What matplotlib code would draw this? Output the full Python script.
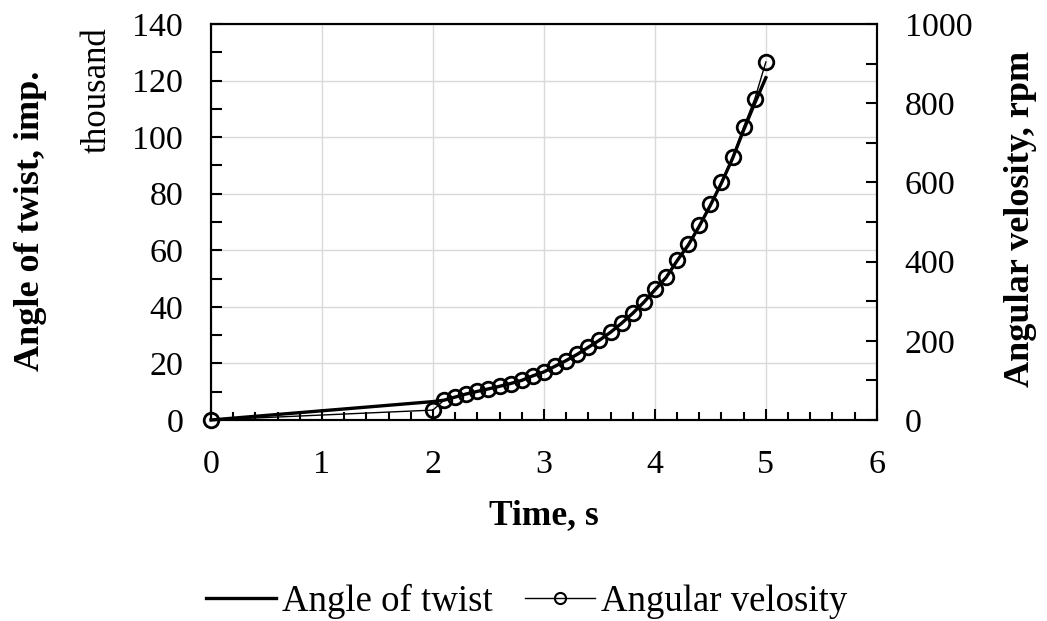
import numpy as np
import matplotlib
matplotlib.use("Agg")
import matplotlib.pyplot as plt
from matplotlib.ticker import MultipleLocator
from matplotlib.lines import Line2D

plt.rcParams['font.family'] = ['Liberation Serif', 'DejaVu Serif']

# time, s
time = [0, 2.0, 2.1, 2.2, 2.3, 2.4, 2.5, 2.6, 2.7, 2.8, 2.9, 3.0, 3.1, 3.2, 3.3, 3.4,
        3.5, 3.6, 3.7, 3.8, 3.9, 4.0, 4.1, 4.2, 4.3, 4.4, 4.5, 4.6, 4.7, 4.8, 4.9, 5.0]
# angle of twist, thousand imp.
twist = [0, 6.5, 7.0, 8.1, 9.2, 10.1, 11.0, 11.9, 12.9, 14.0, 15.6, 17.0, 19.0, 21.0, 23.2, 25.7,
         28.2, 31.0, 34.2, 37.7, 41.6, 46.0, 50.3, 56.3, 61.8, 68.5, 75.9, 83.8, 92.5, 102.5, 112.0, 121.0]
# angular velocity, rpm
velocity = [0, 25, 50, 58, 66, 72, 79, 85, 92, 100, 112, 122, 136, 150, 166, 184,
            202, 222, 245, 270, 298, 331, 361, 404, 444, 492, 545, 601, 664, 740, 811, 904]

fig = plt.figure(figsize=(10.47, 6.21), dpi=100)
ax = fig.add_axes([0.2015, 0.3237, 0.636, 0.6377])
ax2 = ax.twinx()

ax.plot(time, twist, color='black', lw=2.4, zorder=3, clip_on=False)
ax2.plot(time, velocity, color='black', lw=1.0, marker='o', ms=10.5,
         mfc='none', mec='black', mew=2.0, zorder=4, clip_on=False)

ax.set_xlim(0, 6)
ax.set_ylim(0, 140)
ax2.set_ylim(0, 1000)
ax.xaxis.set_major_locator(MultipleLocator(1))
ax.xaxis.set_minor_locator(MultipleLocator(0.2))
ax.yaxis.set_major_locator(MultipleLocator(20))
ax.yaxis.set_minor_locator(MultipleLocator(10))
ax2.yaxis.set_major_locator(MultipleLocator(200))
ax2.yaxis.set_minor_locator(MultipleLocator(100))

ax.grid(True, which='major', color='#d9d9d9', lw=1.0)
ax.set_axisbelow(True)

for a in (ax, ax2):
    for s in a.spines.values():
        s.set_linewidth(1.5)
        s.set_color('black')

ax.tick_params(axis='x', which='both', direction='in', labelsize=24.5, pad=21, width=1.5)
ax.tick_params(axis='x', which='major', length=8)
ax.tick_params(axis='x', which='minor', length=6)
ax.tick_params(axis='y', which='both', direction='in', labelsize=24.5, pad=20, length=8, width=1.5)
ax2.tick_params(axis='y', which='both', direction='in', labelsize=24.5, pad=20, length=8, width=1.5)

ax.set_xlabel('Time, s', fontsize=25.5, fontweight='bold', labelpad=14)
fig.text(0.029, 0.645, 'Angle of twist, imp.', rotation=90, fontsize=26,
         fontweight='bold', ha='center', va='center')
fig.text(0.093, 0.855, 'thousand', rotation=90, fontsize=25, ha='center', va='center')
fig.text(0.975, 0.648, 'Angular velosity, rpm', rotation=90, fontsize=26,
         fontweight='bold', ha='center', va='center')

handles = [Line2D([], [], color='black', lw=2.4),
           Line2D([], [], color='black', lw=1.0, marker='o', ms=8, mfc='none', mew=1.5)]
fig.legend(handles, ['Angle of twist', 'Angular velosity'], loc='center',
           bbox_to_anchor=(0.503, 0.032), ncol=2, frameon=False, fontsize=26.5,
           handlelength=1.9, handletextpad=0.15, columnspacing=0.9)

fig.savefig('out.png', dpi=100)
